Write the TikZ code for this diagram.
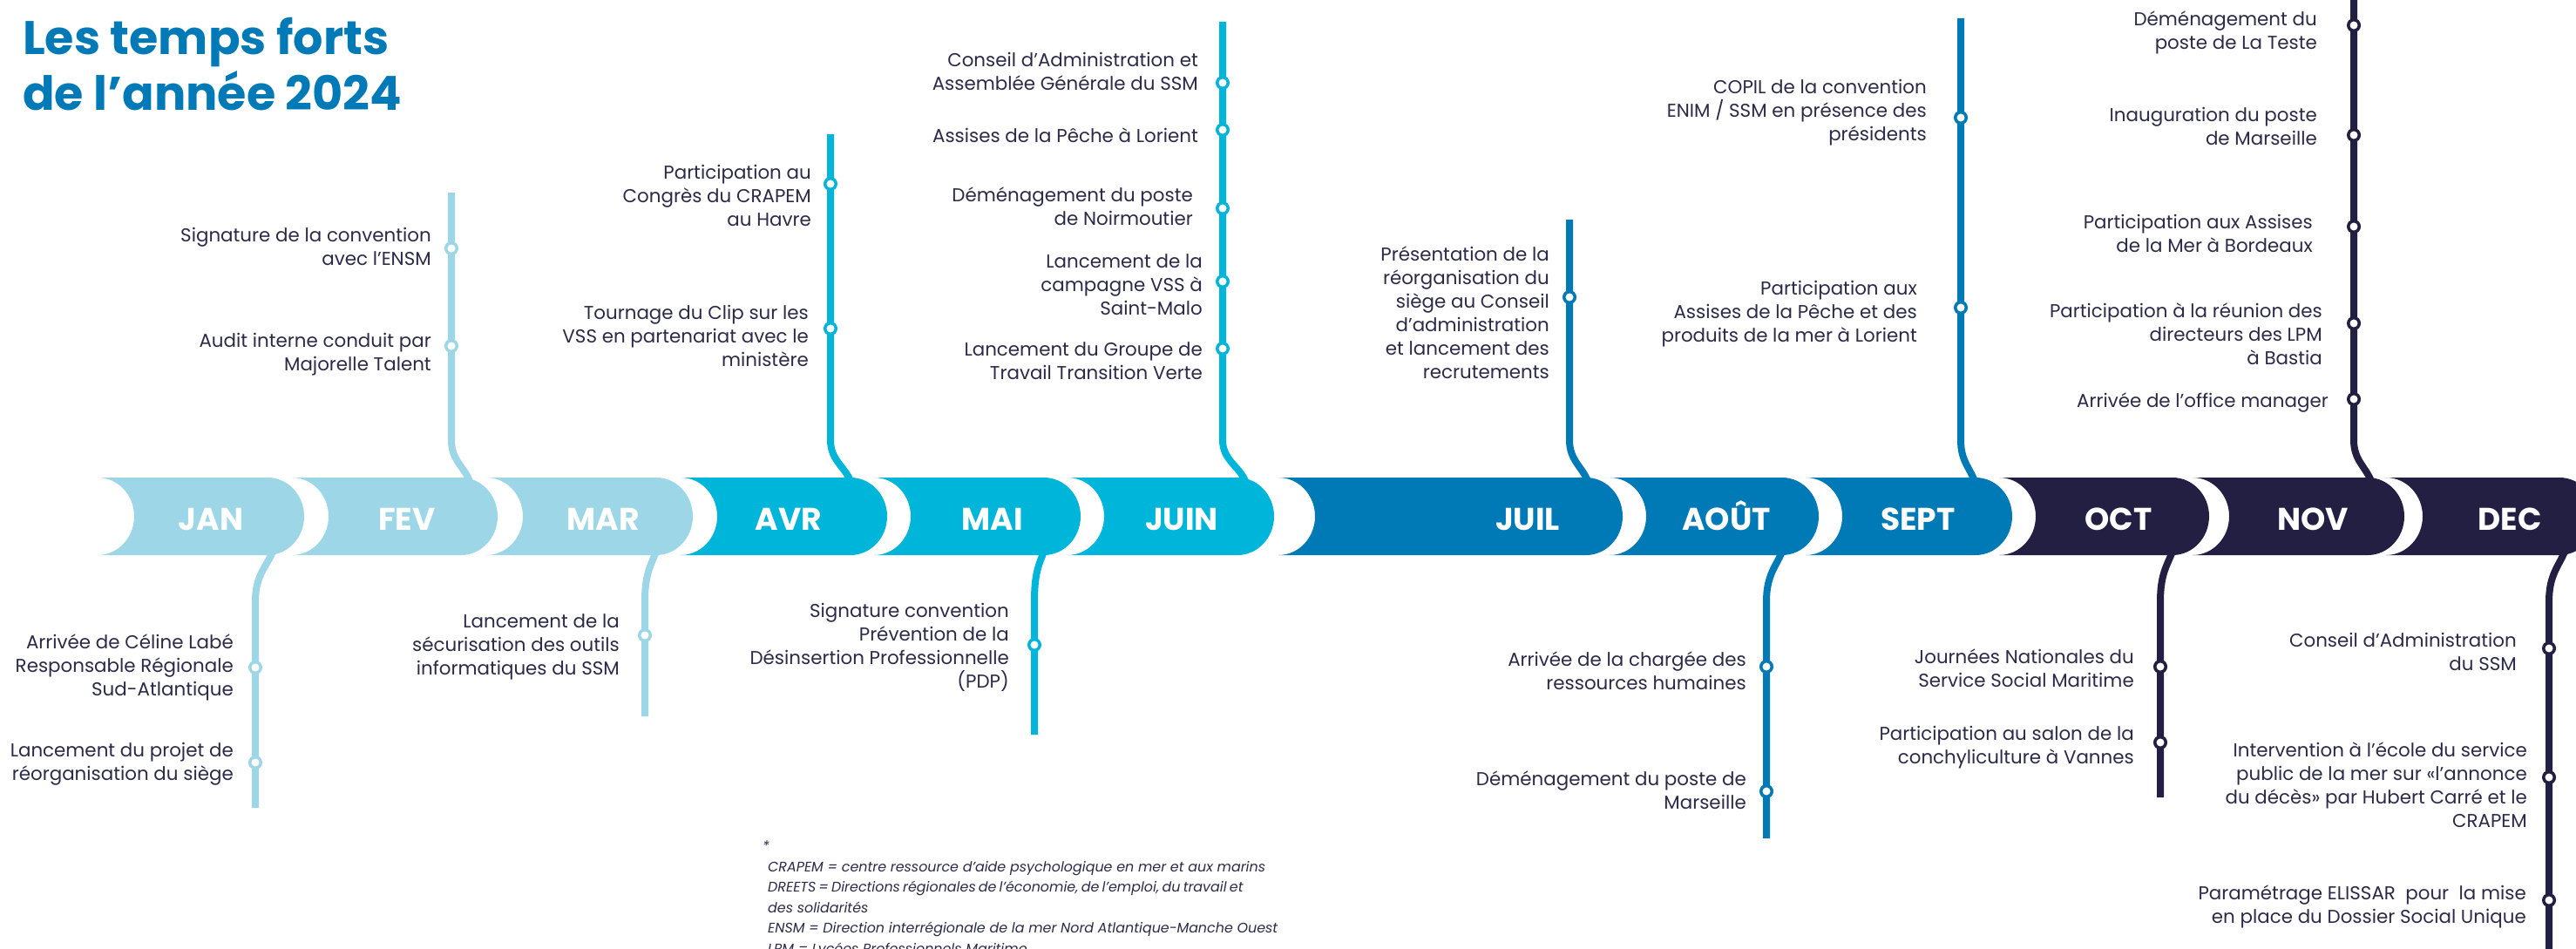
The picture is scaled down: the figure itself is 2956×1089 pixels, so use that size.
\documentclass[tikz,border=0pt]{standalone}
\usepackage{fontspec}
\setmainfont{Poppins}
\usetikzlibrary{positioning, calc}

\definecolor{lightband}{RGB}{157,214,231}
\definecolor{cyanband}{RGB}{0,181,218}
\definecolor{blueband}{RGB}{0,121,183}
\definecolor{navyband}{RGB}{35,31,67}
\definecolor{ink}{RGB}{43,42,72}

\tikzset{
	month/.style={text=white, font=\fontsize{36}{40}\selectfont\bfseries, inner sep=0, anchor=base},
	stem/.style={draw=#1, line width=8pt},
	dot/.style={circle, draw=#1, fill=white, line width=3.5pt, minimum size=12.5pt, inner sep=0},
	lbl/.style={text=ink, font=\fontsize{21.4}{27}\selectfont, align=right, anchor=east, inner sep=0},
	title/.style={text=blueband, font=\fontsize{54}{64}\selectfont\bfseries, align=left, anchor=north west, inner sep=0},
	note/.style={text=ink, font=\fontsize{15.9}{23.5}\selectfont\itshape, align=left, inner sep=0},
}

\begin{document}
\begin{tikzpicture}[x=1pt, y=-1pt]
\useasboundingbox (0,0) rectangle (2956,1089);
\clip (0,0) rectangle (2956,1089);

\node[title] (title) at (26,20) {Les temps forts\\de l’année 2024};

% month band
\foreach \n/\m/\l/\r/\cx/\c in {jan/JAN/112/307/242/lightband, fev/FEV/335/529/467/lightband, mar/MAR/558/753/692/lightband,
	avr/AVR/781/976/905/cyanband, mai/MAI/1003/1198/1139/cyanband, juin/JUIN/1225/1420/1356/cyanband,
	juil/JUIL/1467/1820/1753/blueband, aout/AOÛT/1847/2045/1981/blueband, sept/SEPT/2072/2267/2201/blueband,
	oct/OCT/2294/2493/2431/navyband, nov/NOV/2516/2717/2654/navyband, dec/DEC/2738/2937/2880/navyband} {
	\fill[\c] (\l,548) -- (\r,548) arc[start angle=90, end angle=-90, x radius=42pt, y radius=44.5pt]
		-- (\l,637) arc[start angle=-90, end angle=90, x radius=42pt, y radius=44.5pt] -- cycle;
	\node[month] (\n) at (\cx,608) {\m};
}

% stems above
\foreach \n/\x/\t/\e/\c in {fev/518/221/539/lightband, avr/953/154/976/cyanband, juin/1403/25/1429/cyanband,
	juil/1801/252/1822/blueband, sept/2250/21/2266/blueband, nov/2701/-20/2721/navyband} {
	\coordinate (\n top) at (\x,\t);
	\coordinate (\n foot) at (\e,552);
	\draw[stem=\c] (\n top) -- (\x,505) .. controls (\x,528) and (\e-7,535) .. (\n foot);
}
% stems below
\foreach \n/\x/\b/\e/\c in {jan/293/927/313/lightband, mar/740/822/753/lightband, mai/1187/843/1198/cyanband,
	aout/2027/962/2045/blueband, oct/2479/915/2493/navyband, dec/2925/1100/2943/navyband} {
	\coordinate (\n head) at (\e,633);
	\coordinate (\n tail) at (\x,\b);
	\draw[stem=\c] (\n head) .. controls (\e-7,650) and (\x,660) .. (\x,690) -- (\n tail);
}

% events
\foreach \n/\x/\my/\c/\tx/\ty/\txt in {
	fevA/518/285/lightband/495/283/{Signature de la convention\\avec l’ENSM},
	fevB/518/397/lightband/495/407/{Audit interne conduit par\\Majorelle Talent},
	avrA/953/211/cyanband/931/224/{Participation au\\Congrès du CRAPEM\\au Havre},
	avrB/953/377/cyanband/928/385/{Tournage du Clip sur les\\VSS en partenariat avec le\\ministère},
	juinA/1403/95/cyanband/1375/82/{Conseil d’Administration et\\Assemblée Générale du SSM},
	juinB/1403/149/cyanband/1375/155/{Assises de la Pêche à Lorient},
	juinC/1403/239/cyanband/1369/237/{Déménagement du poste\\de Noirmoutier},
	juinD/1403/323/cyanband/1380/327/{Lancement de la\\campagne VSS à\\Saint-Malo},
	juinE/1403/400/cyanband/1380/414/{Lancement du Groupe de\\Travail Transition Verte},
	juilA/1801/341/blueband/1778/359/{Présentation de la\\réorganisation du\\siège au Conseil\\d’administration\\et lancement des\\recrutements},
	septA/2250/135/blueband/2211/129/{COPIL de la convention\\ENIM / SSM en présence des\\présidents},
	septB/2250/353/blueband/2200/360/{Participation aux\\Assises de la Pêche et des\\produits de la mer à Lorient},
	novA/2701/29/navyband/2659/37/{Déménagement du\\poste de La Teste},
	novB/2701/155/navyband/2659/145/{Inauguration du poste\\de Marseille},
	novC/2701/260/navyband/2654/268/{Participation aux Assises\\de la Mer à Bordeaux},
	novD/2701/371/navyband/2665/383/{Participation à la réunion des\\directeurs des LPM\\à Bastia},
	novE/2701/458/navyband/2672/462/{Arrivée de l’office manager},
	janA/293/766/lightband/268/766/{Arrivée de Céline Labé\\Responsable Régionale\\Sud-Atlantique},
	janB/293/875/lightband/268/877/{Lancement du projet de\\réorganisation du siège},
	marA/740/729/lightband/711/742/{Lancement de la\\sécurisation des outils\\informatiques du SSM},
	maiA/1187/740/cyanband/1158/743/{Signature convention\\Prévention de la\\Désinsertion Professionnelle\\(PDP)},
	aoutA/2027/765/blueband/2004/770/{Arrivée de la chargée des\\ressources humaines},
	aoutB/2027/908/blueband/2004/907/{Déménagement du poste de\\Marseille},
	octA/2479/765/navyband/2449/767/{Journées Nationales du\\Service Social Maritime},
	octB/2479/852/navyband/2449/858/{Participation au salon de la\\conchyliculture à Vannes},
	decA/2925/744/navyband/2888/748/{Conseil d’Administration\\du SSM},
	decB/2925/892/navyband/2900/901/{Intervention à l’école du service\\public de la mer sur «l’annonce\\du décès» par Hubert Carré et le\\CRAPEM},
	decC/2925/1033/navyband/2899/1040/{Paramétrage ELISSAR\ \ pour\ \ la mise\\en place du Dossier Social Unique}} {
	\node[dot=\c] (\n) at (\x,\my) {};
	\node[lbl] (\n txt) at (\tx,\ty) {\txt};
}

% glossary
\node[note, anchor=base west] (star) at (875,976) {*};
\node[note, anchor=base west] (notes) at (881,1094) {CRAPEM = centre ressource d’aide psychologique en mer et aux marins\\
	\makebox[534pt][s]{DREETS = Directions régionales de l’économie, de l’emploi, du travail et}\\
	des solidarités\\
	ENSM = Direction interrégionale de la mer Nord Atlantique-Manche Ouest\\
	LPM = Lycées Professionnels Maritime};
\end{tikzpicture}
\end{document}
